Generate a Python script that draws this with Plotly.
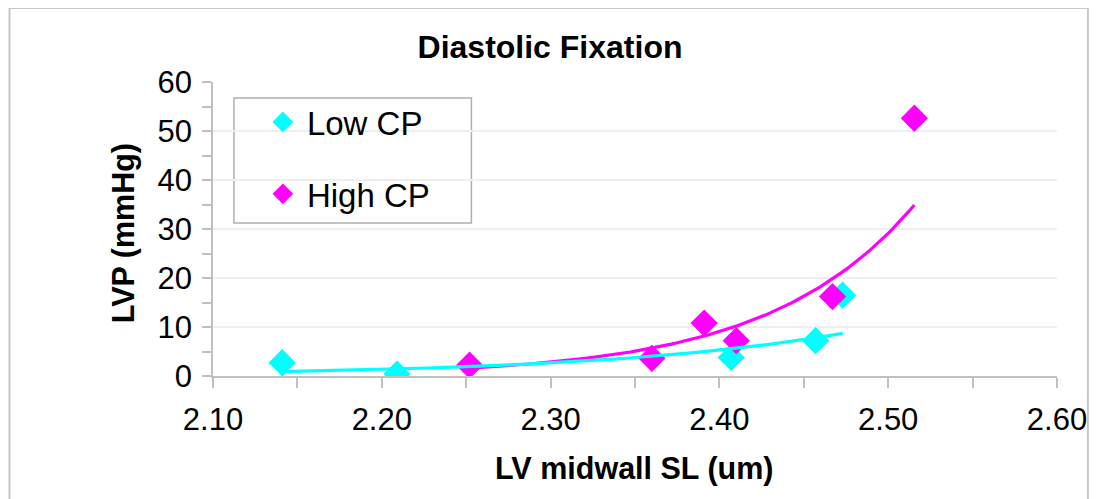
import numpy as np
import plotly.graph_objects as go

# ---- data ----
low_x = [2.141, 2.209, 2.407, 2.457, 2.473]
low_y = [2.7, 0.4, 3.8, 7.2, 16.5]
high_x = [2.252, 2.360, 2.391, 2.410, 2.467, 2.5155]
high_y = [2.2, 3.6, 10.8, 7.2, 16.2, 52.6]

series_names = ["Low CP", "High CP"]
series_colors = ["#00FFFF", "#FF00FF"]

title_text = "Diastolic Fixation"
x_title = "LV midwall SL (um)"
y_title = "LVP (mmHg)"

FONT = "Liberation Sans, Arial, sans-serif"


def exp_trend(xs, ys, n=120):
    # Excel-style exponential trendline: least squares on ln(y)
    b, a = np.polyfit(np.array(xs), np.log(np.array(ys)), 1)
    xx = np.linspace(min(xs), max(xs), n)
    return xx, np.exp(a + b * xx)


fig = go.Figure()

for name, xs, ys, col, grp in zip(series_names, [low_x, high_x], [low_y, high_y], series_colors, ["a", "b"]):
    fig.add_trace(go.Scatter(
        x=xs, y=ys, mode="markers", name=name, legendgroup=grp,
        marker=dict(symbol="diamond", size=21, color=col, line=dict(width=0)),
    ))

for xs, ys, col in [(high_x, high_y, series_colors[1]), (low_x, low_y, series_colors[0])]:
    tx, ty = exp_trend(xs, ys)
    fig.add_trace(go.Scatter(
        x=tx, y=ty, mode="lines", showlegend=False, hoverinfo="skip",
        line=dict(color=col, width=3.2),
    ))

# page offset (browser body margin)
OFF = 8
W, H = 1099 - OFF, 499 - OFF
# plot area in page pixels
PX0, PX1, PY0, PY1 = 213, 1059, 82, 376
L = PX0 - OFF
R = W - (PX1 - OFF)
T = PY0 - OFF
B = H - (PY1 - OFF)
pw = PX1 - PX0
ph = PY1 - PY0


def fx(px):
    return (px - PX0) / pw


def fy(py):
    return (PY1 - py) / ph


axis_col = "#c0c0c0"

fig.update_layout(
    width=W, height=H,
    margin=dict(l=L, r=R, t=T, b=B),
    paper_bgcolor="white", plot_bgcolor="white",
    font=dict(family=FONT, color="black"),
    title=dict(text=f"<b>{title_text}</b>", x=(550 - OFF) / W,
               xanchor="center", y=1 - (47 - OFF) / H, yanchor="middle",
               font=dict(size=32, family=FONT)),
    showlegend=True,
    legend=dict(
        x=fx(259), y=fy(94), xanchor="left", yanchor="top",
        borderwidth=0, bgcolor="rgba(0,0,0,0)",
        font=dict(size=33, family=FONT), tracegroupgap=26,
        itemwidth=38,
    ),
    xaxis=dict(
        range=[2.10, 2.60], dtick=0.1, tick0=2.1, tickformat=".2f",
        showgrid=False, zeroline=False, showline=True, linecolor=axis_col, linewidth=1.5,
        ticks="outside", ticklen=10, tickcolor=axis_col, tickwidth=1.5,
        minor=dict(dtick=0.05, tick0=2.1, ticks="outside", ticklen=10, tickcolor=axis_col, tickwidth=1.5, showgrid=False),
        tickfont=dict(size=31, family=FONT), ticklabelstandoff=5,
    ),
    yaxis=dict(
        range=[0, 60], dtick=10, tick0=0,
        showgrid=True, gridcolor="#efefef", gridwidth=1.5,
        zeroline=False, showline=True, linecolor=axis_col, linewidth=1.5,
        ticks="outside", ticklen=9, tickcolor=axis_col, tickwidth=1.5,
        minor=dict(dtick=5, tick0=0, ticks="outside", ticklen=9, tickcolor=axis_col, tickwidth=1.5, showgrid=False),
        tickfont=dict(size=31, family=FONT), ticklabelstandoff=4,
    ),
)

# axis titles
fig.add_annotation(text=f"<b>{x_title}</b>", xref="paper", yref="paper",
                   x=fx(635), y=fy(468), xanchor="center", yanchor="middle",
                   showarrow=False, font=dict(size=30.5, family=FONT))
fig.add_annotation(text=f"<b>{y_title}</b>", xref="paper", yref="paper",
                   x=fx(123), y=fy(233), xanchor="center", yanchor="middle",
                   textangle=-90, showarrow=False, font=dict(size=30.5, family=FONT))

# legend frame
fig.add_shape(type="rect", xref="paper", yref="paper",
              x0=fx(234), x1=fx(472), y0=fy(223), y1=fy(98),
              line=dict(color="#b0b0b0", width=1.5), fillcolor="white", layer="below")

# outer chart frame
fig.add_shape(type="rect", xref="paper", yref="paper",
              x0=fx(9), x1=fx(1090), y0=fy(520), y1=fy(8),
              line=dict(color="#c8c8c8", width=2), layer="below")

fig.write_html("out.html")
